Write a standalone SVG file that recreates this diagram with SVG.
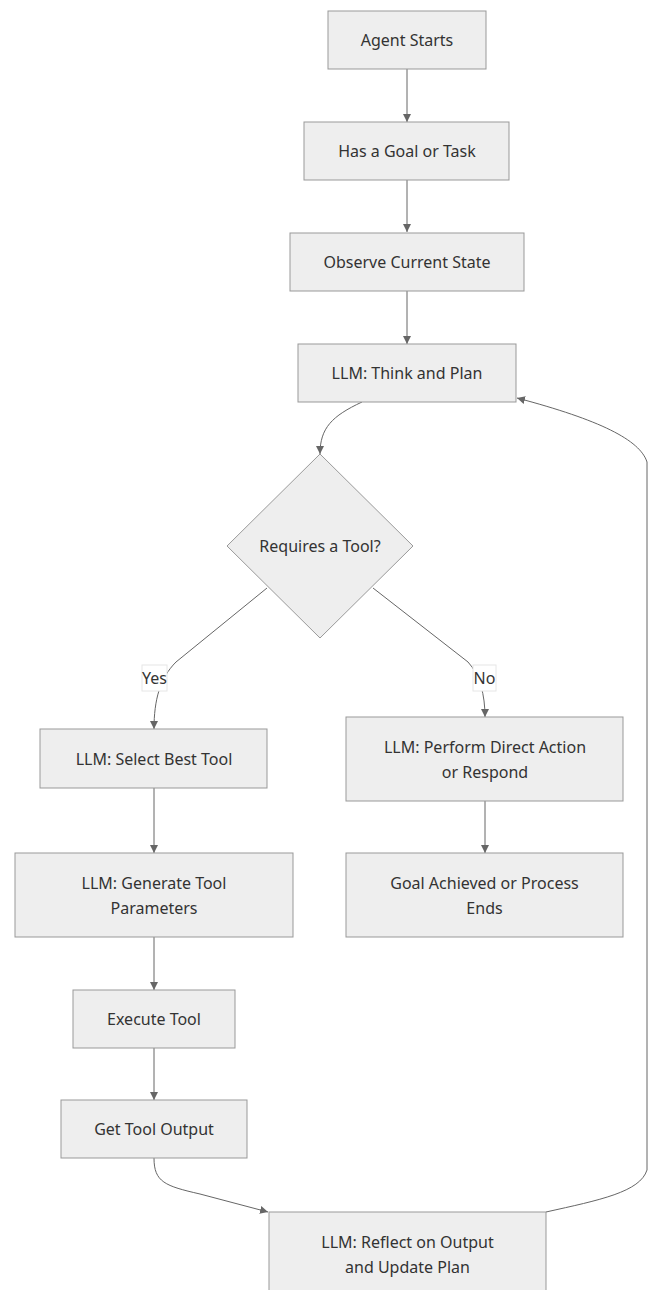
<svg xmlns="http://www.w3.org/2000/svg" width="648" height="1290" viewBox="0 0 648 1290">
<style>
.node rect, .node polygon { fill: #eeeeee; stroke: #999999; stroke-width: 1; }
.node text, .elabel text { font-family: "Noto Sans", "Liberation Sans", sans-serif; font-size: 16px; fill: #333333; text-anchor: middle; }
.edge { fill: none; stroke: #666666; stroke-width: 1; marker-end: url(#arrow); }
.elabel rect { fill: #ffffff; stroke: #e6e6e6; stroke-width: 1; }
</style>
<defs>
<marker id="arrow" viewBox="0 0 10 10" refX="10" refY="5" markerUnits="userSpaceOnUse" markerWidth="8" markerHeight="8" orient="auto">
<path d="M0,0 L10,5 L0,10 z" fill="#666666"/>
</marker>
</defs>
<rect width="648" height="1290" fill="#ffffff"/>
<g id="connectors">
<path class="edge" d="M407,69 L407,122"/>
<path class="edge" d="M407,180 L407,232"/>
<path class="edge" d="M407,291 L407,344"/>
<path class="edge" d="M362,402 C332,416 320,428 320,454"/>
<path class="edge" d="M267,588 L176,662 C160,678 154,700 154,729"/>
<path class="edge" d="M373,588 L468,662 C480,675 485,695 485,717"/>
<path class="edge" d="M154,788 L154,853"/>
<path class="edge" d="M485,801 L485,853"/>
<path class="edge" d="M154,937 L154,990"/>
<path class="edge" d="M154,1048 L154,1100"/>
<path class="edge" d="M154,1158 C154,1182 165,1186 200,1194 L268,1212"/>
<path class="edge" d="M546,1212 C600,1200 640,1192 647,1170 L647,462 C640,440 600,420 517,398"/>
</g>
<g id="label-yes" class="elabel">
<rect x="142" y="665" width="25" height="26"/>
<text x="154.5" y="684">Yes</text>
</g>
<g id="label-no" class="elabel">
<rect x="473" y="665" width="23" height="26"/>
<text x="484.5" y="684">No</text>
</g>
<g id="agent-starts" class="node">
<rect x="328" y="11" width="158" height="58"/>
<text x="407" y="46">Agent Starts</text>
</g>
<g id="has-goal" class="node">
<rect x="304" y="122" width="205" height="58"/>
<text x="407" y="157">Has a Goal or Task</text>
</g>
<g id="observe" class="node">
<rect x="290" y="233" width="234" height="58"/>
<text x="407" y="268">Observe Current State</text>
</g>
<g id="think-plan" class="node">
<rect x="298" y="344" width="218" height="58"/>
<text x="407" y="379">LLM: Think and Plan</text>
</g>
<g id="requires-tool" class="node">
<polygon points="320,454 413,546 320,638 227,546"/>
<text x="320" y="552">Requires a Tool?</text>
</g>
<g id="select-tool" class="node">
<rect x="40" y="729" width="227" height="59"/>
<text x="154" y="765">LLM: Select Best Tool</text>
</g>
<g id="direct-action" class="node">
<rect x="346" y="717" width="277" height="84"/>
<text x="485" y="753">LLM: Perform Direct Action</text>
<text x="485" y="778">or Respond</text>
</g>
<g id="generate-params" class="node">
<rect x="15" y="853" width="278" height="84"/>
<text x="154" y="889">LLM: Generate Tool</text>
<text x="154" y="914">Parameters</text>
</g>
<g id="goal-achieved" class="node">
<rect x="346" y="853" width="277" height="84"/>
<text x="484.5" y="889">Goal Achieved or Process</text>
<text x="484.5" y="914">Ends</text>
</g>
<g id="execute-tool" class="node">
<rect x="73" y="990" width="162" height="58"/>
<text x="154" y="1025">Execute Tool</text>
</g>
<g id="get-output" class="node">
<rect x="61" y="1100" width="186" height="58"/>
<text x="154" y="1135">Get Tool Output</text>
</g>
<g id="reflect" class="node">
<rect x="269" y="1212" width="277" height="84"/>
<text x="407.5" y="1248">LLM: Reflect on Output</text>
<text x="407.5" y="1273">and Update Plan</text>
</g>
</svg>
